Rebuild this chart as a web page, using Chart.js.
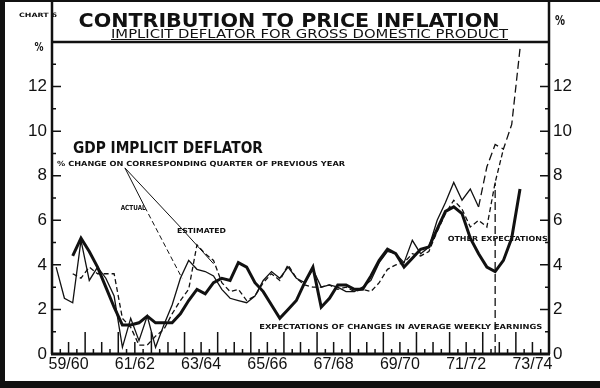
<!DOCTYPE html>
<html>
<head>
<meta charset="utf-8">
<script src="https://cdn.jsdelivr.net/npm/chart.js@4.4.1/dist/chart.umd.min.js"></script>
<style>
  html, body { margin: 0; padding: 0; background: #fff; }
  #wrap { width: 600px; height: 388px; position: relative; }
</style>
</head>
<body>
<div id="wrap"><canvas id="chart"></canvas></div>
<script>
// quarterly data, Sep qtr 1959 .. Jun qtr 1974 (index 0..59)
const yearLabels = ["59/60", "61/62", "63/64", "65/66", "67/68", "69/70", "71/72", "73/74"];
const quarterCount = 60;
const yTicks = [0, 2, 4, 6, 8, 10, 12];

// GDP implicit deflator, actual (% change on same quarter a year earlier)
const actual = [3.9, 2.5, 2.3, 5.1, 3.3, 3.9, 3.4, 2.6, 0.3, 1.6, 0.6, 1.7, 0.3, 1.3, 2.2, 3.4,
  4.2, 3.8, 3.7, 3.5, 2.9, 2.5, 2.4, 2.3, 2.6, 3.3, 3.7, 3.4, 3.9, 3.4, 3.2, 3.8,
  3.0, 3.1, 3.0, 2.8, 2.8, 3.0, 3.3, 4.1, 4.6, 4.5, 4.1, 5.1, 4.5, 4.8, 6.0, 6.8,
  7.7, 6.9, 7.4, 6.6, 8.4, 9.4, 9.2, 10.3, 13.7];
const actualDashedFrom = 51;

// GDP implicit deflator, estimated
const estimated = [null, null, 3.6, 3.4, 3.9, 3.6, 3.6, 3.6, 1.6, 1.2, 0.4, 0.4, 0.8, 1.1, 1.8, 2.4,
  2.9, 4.9, 4.5, 4.2, 3.2, 2.8, 2.9, 2.4, 2.6, 3.2, 3.6, 3.3, 4.0, 3.4, 3.1, 3.0,
  3.0, 3.1, 2.9, 3.0, 2.8, 2.9, 2.8, 3.2, 3.8, 4.0, 4.1, 4.5, 4.4, 4.6, 5.5, 6.3,
  6.9, 6.5, 5.7, 6.0, 5.7, 7.7, 9.2];

// expectations (heavy line)
const expectations = [null, null, 4.4, 5.2, 4.6, 3.9, 3.0, 2.1, 1.3, 1.3, 1.4, 1.7, 1.4, 1.4, 1.4, 1.8,
  2.4, 2.9, 2.7, 3.2, 3.4, 3.3, 4.1, 3.9, 3.2, 2.8, 2.2, 1.6, 2.0, 2.4, 3.2, 3.9,
  2.1, 2.5, 3.1, 3.1, 2.9, 2.9, 3.5, 4.2, 4.7, 4.5, 3.9, 4.3, 4.7, 4.8, 5.6, 6.4,
  6.6, 6.3, 5.2, 4.5, 3.9, 3.7, 4.2, 5.2, 7.4];

// vertical break line
const breakQuarter = 53.5;
const breakTop = 7.7;

// pointer lines from the label to the curves [quarter, pct]
const actualPointer = [[8.8, 8.35], [11.2, 6.6], [15.7, 3.4]];
const estimatedPointer = [[8.8, 8.35], [15.6, 5.65], [19.5, 4.05]];

// text labels inside the plot [text, quarter, pct, width px, font]
const plotLabels = [
  ["GDP IMPLICIT DEFLATOR", 14.0, 9.02, 190, "bold 15px 'DejaVu Sans'"],
  ["% CHANGE ON CORRESPONDING QUARTER OF PREVIOUS YEAR", 18.0, 8.44, 288, "bold 7px 'DejaVu Sans'"],
  ["ACTUAL", 9.8, 6.48, 25, "bold 7px 'DejaVu Sans'"],
  ["ESTIMATED", 18.05, 5.43, 49, "bold 7px 'DejaVu Sans'"],
  ["OTHER EXPECTATIONS", 53.8, 5.07, 100, "bold 7px 'DejaVu Sans'"],
  ["EXPECTATIONS OF CHANGES IN AVERAGE WEEKLY EARNINGS", 42.1, 1.1, 283, "bold 7px 'DejaVu Sans'"]
];

const ink = "#111";
const toPoints = arr => arr.map((v, i) => (v == null ? null : { x: i + 0.5, y: v })).filter(Boolean);
const pairPoints = arr => arr.map(p => ({ x: p[0], y: p[1] }));

function fitText(ctx, text, cx, base, w, font) {
  ctx.font = font;
  const m = ctx.measureText(text).width;
  ctx.save();
  ctx.translate(cx, base);
  ctx.scale(w / m, 1);
  ctx.textAlign = "center";
  ctx.textBaseline = "alphabetic";
  ctx.fillText(text, 0, 0);
  ctx.restore();
}

const decorations = {
  id: "decorations",
  afterDraw(chart) {
    const ctx = chart.ctx;
    const { left, right, top, bottom } = chart.chartArea;
    const xs = chart.scales.x, ys = chart.scales.y;
    ctx.save();
    ctx.fillStyle = ink;
    ctx.strokeStyle = ink;

    // outer border bits
    ctx.fillRect(0, 0, 5, 388);
    ctx.fillRect(0, 381, 600, 7);
    ctx.fillRect(0, 0, 600, 2);

    // frame: title box + plot box
    ctx.lineWidth = 2.5;
    ctx.beginPath();
    ctx.moveTo(left, 0); ctx.lineTo(left, bottom);
    ctx.moveTo(right, 0); ctx.lineTo(right, bottom);
    ctx.moveTo(left, top); ctx.lineTo(right, top);
    ctx.stroke();
    ctx.lineWidth = 3;
    ctx.beginPath();
    ctx.moveTo(left - 1, bottom); ctx.lineTo(right + 1, bottom);
    ctx.stroke();

    // inward y ticks on both sides
    ctx.lineWidth = 1.5;
    ctx.beginPath();
    for (let v = 1; v < 14; v++) {
      const y = ys.getPixelForValue(v);
      const len = v % 2 === 0 ? 9 : 4;
      ctx.moveTo(left, y); ctx.lineTo(left + len, y);
      ctx.moveTo(right, y); ctx.lineTo(right - len, y);
    }
    ctx.stroke();

    // inward x ticks: year, half-year, quarter
    ctx.beginPath();
    for (let q = 1; q < quarterCount; q++) {
      const x = xs.getPixelForValue(q);
      const len = q % 4 === 0 ? 22 : (q % 2 === 0 ? 12 : 5);
      ctx.moveTo(x, bottom); ctx.lineTo(x, bottom - len);
    }
    ctx.stroke();

    // titles
    fitText(ctx, "CONTRIBUTION TO PRICE INFLATION", 289, 27, 421, "bold 19px 'DejaVu Sans'");
    fitText(ctx, "IMPLICIT DEFLATOR FOR GROSS DOMESTIC PRODUCT", 309.5, 37.5, 397, "12px 'DejaVu Sans'");
    ctx.lineWidth = 1.2;
    ctx.beginPath();
    ctx.moveTo(111, 39.5); ctx.lineTo(508, 39.5);
    ctx.stroke();
    fitText(ctx, "CHART 6", 38, 17, 38, "bold 6px 'DejaVu Sans'");
    fitText(ctx, "%", 39, 51, 9, "bold 13px 'DejaVu Sans'");
    fitText(ctx, "%", 560, 25, 10, "bold 14px 'DejaVu Sans'");

    // labels inside plot
    plotLabels.forEach(([text, q, v, w, font]) => {
      fitText(ctx, text, xs.getPixelForValue(q), ys.getPixelForValue(v), w, font);
    });
    ctx.restore();
  }
};

new Chart(document.getElementById("chart"), {
  type: "line",
  data: {
    datasets: [
      {
        label: "Actual",
        data: toPoints(actual),
        borderColor: ink,
        borderWidth: 1.3,
        segment: {
          borderDash: c => (c.p0DataIndex >= actualDashedFrom ? [8, 4] : undefined)
        }
      },
      {
        label: "Estimated",
        data: toPoints(estimated),
        borderColor: ink,
        borderWidth: 1.3,
        borderDash: [5, 3]
      },
      {
        label: "Expectations",
        data: toPoints(expectations),
        borderColor: ink,
        borderWidth: 3
      },
      {
        label: "Break",
        data: [{ x: breakQuarter, y: 0 }, { x: breakQuarter, y: breakTop }],
        borderColor: ink,
        borderWidth: 1.3,
        borderDash: [8, 4]
      },
      {
        label: "Actual pointer",
        data: pairPoints(actualPointer),
        borderColor: ink,
        borderWidth: 1,
        segment: { borderDash: c => (c.p0DataIndex >= 1 ? [5, 3] : undefined) }
      },
      {
        label: "Estimated pointer",
        data: pairPoints(estimatedPointer),
        borderColor: ink,
        borderWidth: 1
      }
    ]
  },
  options: {
    responsive: true,
    maintainAspectRatio: false,
    animation: false,
    devicePixelRatio: 1,
    layout: { padding: { top: 42, left: 0, right: 0, bottom: 0 } },
    elements: { point: { radius: 0 }, line: { tension: 0, fill: false } },
    plugins: { legend: { display: false }, tooltip: { enabled: false } },
    scales: {
      x: {
        type: "linear",
        min: 0,
        max: quarterCount,
        grid: { display: false, drawTicks: false },
        border: { display: false },
        afterBuildTicks: s => { s.ticks = yearLabels.map((_, k) => ({ value: 2 + 8 * k })); },
        afterFit: s => { s.height = 34; },
        ticks: {
          autoSkip: false,
          maxRotation: 0,
          padding: 1,
          color: ink,
          font: { family: "'Liberation Sans'", size: 16 },
          callback: v => yearLabels[(v - 2) / 8]
        }
      },
      y: {
        position: "left",
        min: 0,
        max: 14,
        grid: { display: false, drawTicks: false },
        border: { display: false },
        afterBuildTicks: s => { s.ticks = yTicks.map(v => ({ value: v })); },
        afterFit: s => { s.width = 52; },
        ticks: { padding: 5, color: ink, font: { family: "'Liberation Sans'", size: 17 } }
      },
      y2: {
        position: "right",
        min: 0,
        max: 14,
        grid: { display: false, drawTicks: false },
        border: { display: false },
        afterBuildTicks: s => { s.ticks = yTicks.map(v => ({ value: v })); },
        afterFit: s => { s.width = 51; },
        ticks: { padding: 4, color: ink, font: { family: "'Liberation Sans'", size: 17 } }
      }
    }
  },
  plugins: [decorations]
});
</script>
</body>
</html>
